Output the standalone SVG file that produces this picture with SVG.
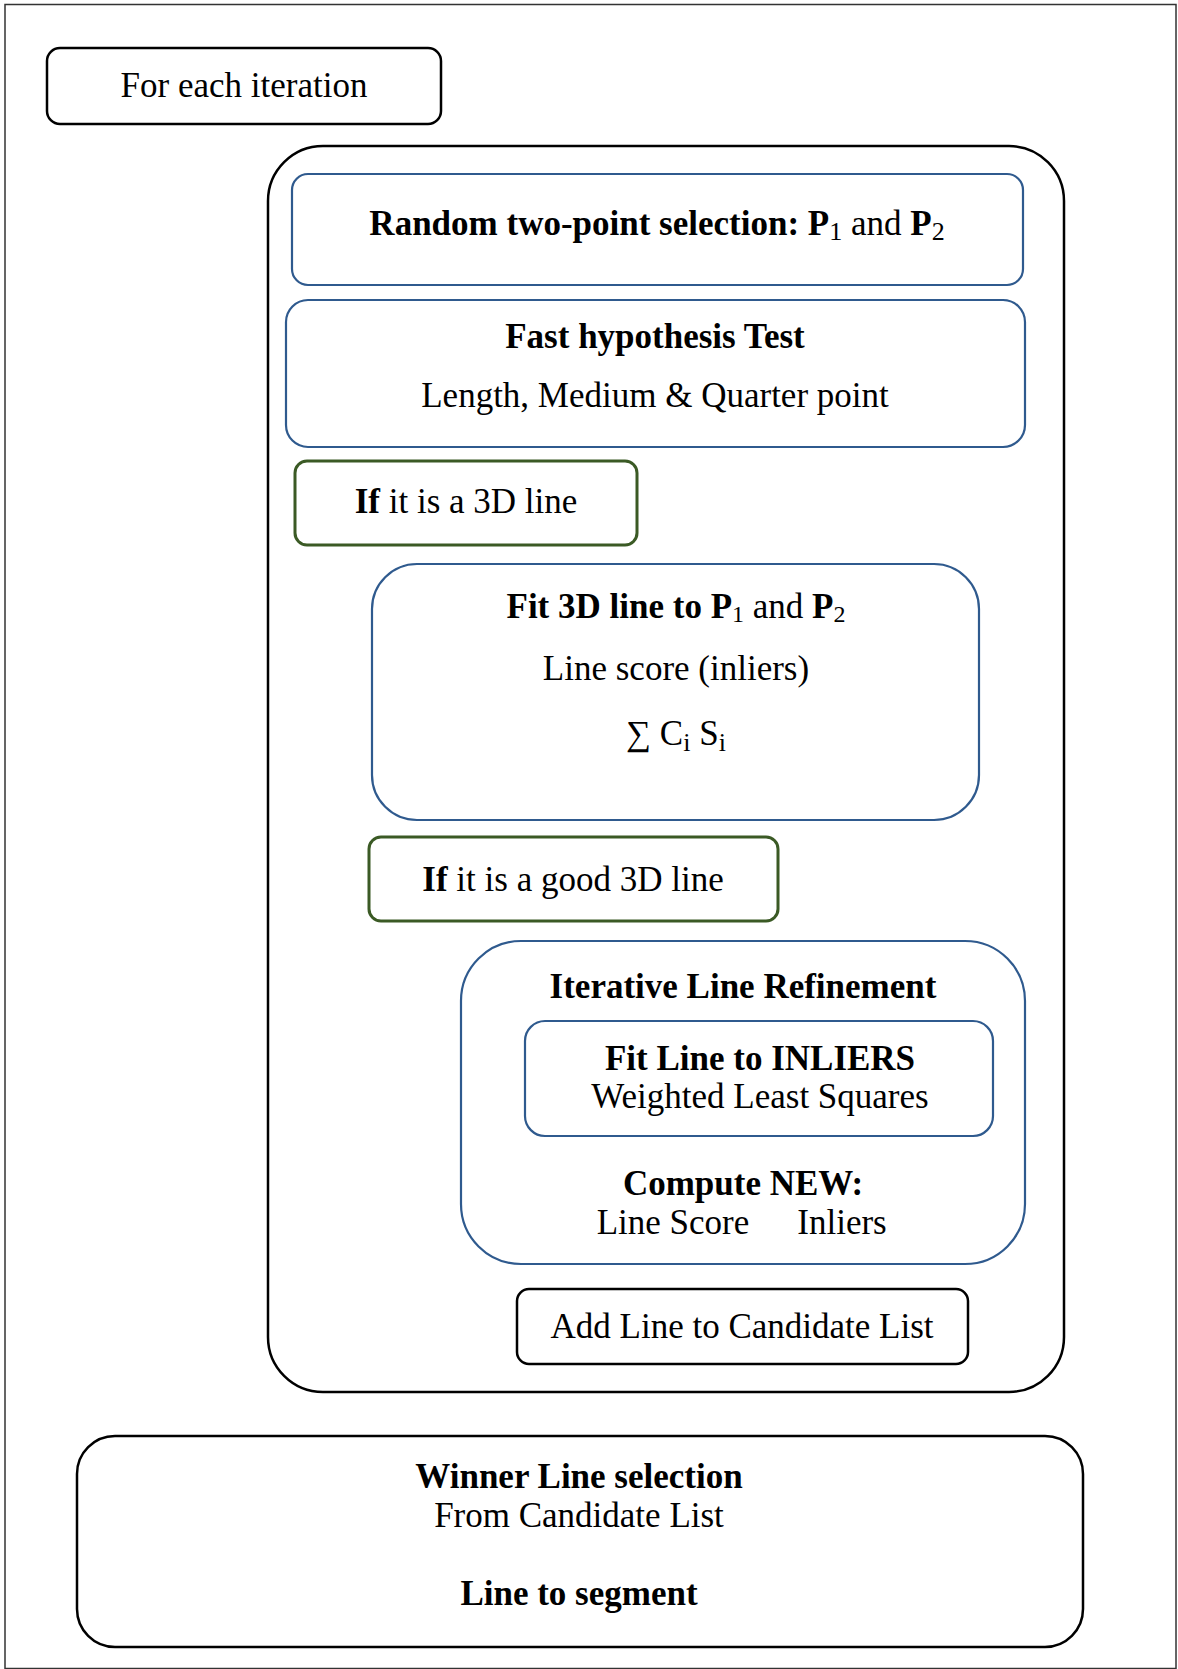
<svg xmlns="http://www.w3.org/2000/svg" width="1178" height="1669" viewBox="0 0 1178 1669">
<style>
.t{font-family:"Liberation Serif","Times New Roman",serif;font-size:35px;fill:#000;text-anchor:middle}
.b{font-weight:bold}
.n{font-weight:normal}
.blk{fill:#fff;stroke:#000;stroke-width:2.5}
.blu{fill:#fff;stroke:#2F5A8E;stroke-width:2.2}
.grn{fill:#fff;stroke:#3B5A25;stroke-width:3}
</style>
<rect x="0" y="0" width="1178" height="1669" fill="#fff"/>
<rect id="frame" x="5" y="4.5" width="1171" height="1664" fill="#fff" stroke="#333" stroke-width="1.5"/>
<g id="connectors"></g>
<g id="for-each">
<rect class="blk" x="47" y="48" width="394" height="76" rx="13"/>
<text class="t" x="244" y="97">For each iteration</text>
</g>
<g id="loop">
<rect class="blk" x="268" y="146" width="796" height="1246" rx="55"/>
</g>
<g id="random">
<rect class="blu" x="292" y="174" width="731" height="111" rx="16"/>
<text class="t b" x="657" y="235">Random two-point selection: P<tspan class="n" font-size="26" dy="5">1</tspan><tspan class="n" dy="-5"> and </tspan>P<tspan class="n" font-size="26" dy="5">2</tspan></text>
</g>
<g id="fast">
<rect class="blu" x="286" y="300" width="739" height="147" rx="22"/>
<text class="t b" x="655" y="348">Fast hypothesis Test</text>
<text class="t" x="655" y="407">Length, Medium &amp; Quarter point</text>
</g>
<g id="if3d">
<rect class="grn" x="295" y="461" width="342" height="84" rx="12"/>
<text class="t" x="466" y="513"><tspan class="b">If</tspan> it is a 3D line</text>
</g>
<g id="fit3d">
<rect class="blu" x="372" y="564" width="607" height="256" rx="45"/>
<text class="t b" x="676" y="618">Fit 3D line to P<tspan class="n" font-size="24" dy="4">1</tspan><tspan class="n" dy="-4"> and </tspan>P<tspan class="n" font-size="24" dy="4">2</tspan></text>
<text class="t" x="676" y="680">Line score (inliers)</text>
<text class="t" x="676" y="745">∑ C<tspan font-size="26" dy="6">i</tspan><tspan dy="-6"> S</tspan><tspan font-size="26" dy="6">i</tspan></text>
</g>
<g id="ifgood">
<rect class="grn" x="369" y="837" width="409" height="84" rx="12"/>
<text class="t" x="573" y="891"><tspan class="b">If</tspan> it is a good 3D line</text>
</g>
<g id="iterative">
<rect class="blu" x="461" y="941" width="564" height="323" rx="60"/>
<text class="t b" x="743" y="998">Iterative Line Refinement</text>
<text class="t b" x="743" y="1195">Compute NEW:</text>
<text class="t" x="673" y="1234">Line Score</text>
<text class="t" x="842" y="1234">Inliers</text>
</g>
<g id="fitinliers">
<rect class="blu" x="525" y="1021" width="468" height="115" rx="20"/>
<text class="t b" x="760" y="1070">Fit Line to INLIERS</text>
<text class="t" x="760" y="1108">Weighted Least Squares</text>
</g>
<g id="addline">
<rect class="blk" x="517" y="1289" width="451" height="75" rx="12"/>
<text class="t" x="742" y="1338">Add Line to Candidate List</text>
</g>
<g id="winner">
<rect class="blk" x="77" y="1436" width="1006" height="211" rx="38"/>
<text class="t b" x="579" y="1488">Winner Line selection</text>
<text class="t" x="579" y="1527">From Candidate List</text>
<text class="t b" x="579" y="1605">Line to segment</text>
</g>
</svg>
